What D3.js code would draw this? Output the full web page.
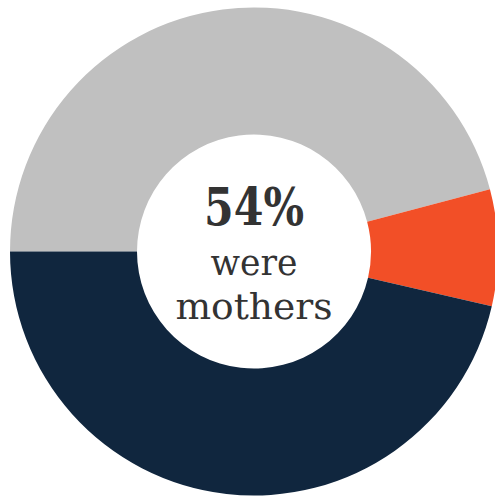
<!DOCTYPE html>
<html>
<head>
<meta charset="utf-8">
<script src="https://cdn.jsdelivr.net/npm/d3@7"></script>
<style>
  html, body { margin: 0; padding: 0; background: #ffffff; }
  svg { display: block; }
</style>
</head>
<body>
<script>
// Share of respondents, in drawing order starting at 9 o'clock and going clockwise
const categories = ["Not mothers", "Mothers (other)", "Mothers"];
const shares = [45.9, 7.7, 46.4];
const sliceColors = ["#c0c0c0", "#f24f27", "#10263e"];
const headline = "54%";
const captionLines = ["were", "mothers"];

const width = 495, height = 497;
const cx = 254, cy = 251.5;
const outerR = 244, innerR = 117;

const svg = d3.select("body").append("svg")
  .attr("width", width)
  .attr("height", height);

const color = d3.scaleOrdinal().domain(categories).range(sliceColors);

const pie = d3.pie()
  .sort(null)
  .value(d => d.value)
  .startAngle(-Math.PI / 2)
  .endAngle(1.5 * Math.PI);

const arc = d3.arc().innerRadius(innerR).outerRadius(outerR);

const data = categories.map((c, i) => ({ category: c, value: shares[i] }));

const g = svg.append("g").attr("transform", `translate(${cx},${cy})`);

g.selectAll("path")
  .data(pie(data))
  .join("path")
  .attr("d", arc)
  .attr("fill", d => color(d.data.category));

// Centre label
g.append("text")
  .attr("x", 0)
  .attr("y", -27)
  .attr("text-anchor", "middle")
  .attr("font-family", "'DejaVu Serif', serif")
  .attr("font-weight", "bold")
  .attr("font-size", 52)
  .attr("fill", "#333333")
  .attr("textLength", 100)
  .attr("lengthAdjust", "spacingAndGlyphs")
  .text(headline);

const lineY = [23.5, 67.5];
const lineW = [87, 157];
captionLines.forEach((t, i) => {
  g.append("text")
    .attr("x", 0)
    .attr("y", lineY[i])
    .attr("text-anchor", "middle")
    .attr("font-family", "'DejaVu Serif', serif")
    .attr("font-size", 35)
    .attr("fill", "#333333")
    .attr("textLength", lineW[i])
    .attr("lengthAdjust", "spacingAndGlyphs")
    .text(t);
});
</script>
</body>
</html>
